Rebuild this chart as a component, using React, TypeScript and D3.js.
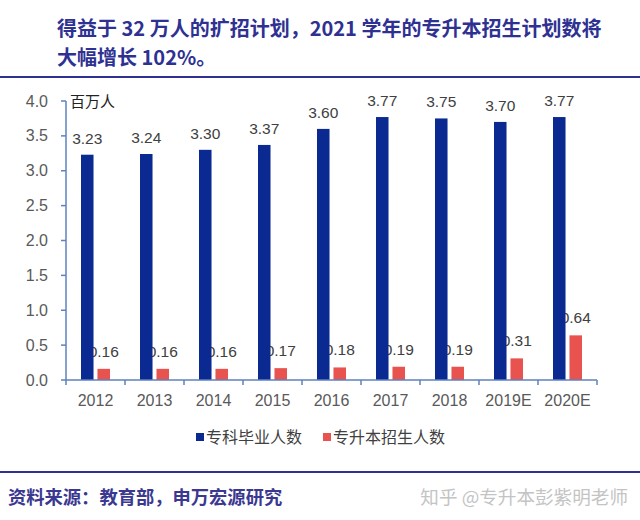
import React from "react";
import * as d3 from "d3";

const years = ["2012", "2013", "2014", "2015", "2016", "2017", "2018", "2019E", "2020E"];
const graduates = [3.23, 3.24, 3.3, 3.37, 3.6, 3.77, 3.75, 3.7, 3.77];
const enrolled = [0.16, 0.16, 0.16, 0.17, 0.18, 0.19, 0.19, 0.31, 0.64];
const yTicks = [0, 0.5, 1, 1.5, 2, 2.5, 3, 3.5, 4];
const seriesNames = ["专科毕业人数", "专升本招生人数"];

const BLUE = "#0A2A92";
const RED = "#E8534F";
const AXIS = "#5F82BE";
const LABEL = "#404040";
const TITLE = "#2E3192";
const NUM_FONT = "'Liberation Sans', Arial, sans-serif";
const CJK_FONT = "'Noto Sans CJK SC', 'Noto Sans', sans-serif";

export default function App() {
  const width = 640;
  const height = 520;

  const x = d3.scaleBand<string>().domain(years).range([66, 597]).paddingInner(0).paddingOuter(0);
  const sub = d3
    .scaleBand<string>()
    .domain(["g", "e"])
    .range([0, x.bandwidth()])
    .paddingInner(0.24)
    .paddingOuter(0.91);
  const y = d3.scaleLinear().domain([0, 4]).range([380, 101]);
  const y0 = y(0);

  return (
    <svg
      width={width}
      height={height}
      style={{ position: "absolute", left: 0, top: 0, background: "#fff" }}
    >
      {/* title */}
      <g fontFamily={CJK_FONT} fontWeight="bold" fontSize={20} fill={TITLE}>
        <text x={57} y={36}>得益于 32 万人的扩招计划，2021 学年的专升本招生计划数将</text>
        <text x={57} y={65}>大幅增长 102%。</text>
      </g>
      <line x1={0} x2={width} y1={77} y2={77} stroke={TITLE} strokeWidth={2} />

      {/* y axis */}
      <line x1={66} x2={66} y1={y(4)} y2={y0} stroke={AXIS} strokeWidth={1.5} />
      {yTicks.map((t) => (
        <g key={t}>
          <line x1={61} x2={66} y1={y(t)} y2={y(t)} stroke={AXIS} strokeWidth={1.5} />
          <text
            x={48}
            y={y(t)}
            dy="0.35em"
            textAnchor="end"
            fontFamily={NUM_FONT}
            fontSize={16}
            fill="#595959"
          >
            {t.toFixed(1)}
          </text>
        </g>
      ))}
      <text x={70} y={107} fontFamily={CJK_FONT} fontSize={15} fill="#222">
        百万人
      </text>

      {/* red labels first, so the blue bars overlap them like in the source */}
      {years.map((yr, i) => (
        <text
          key={"el" + yr}
          x={(x(yr) ?? 0) + (sub("e") ?? 0) + sub.bandwidth() / 2}
          y={y(enrolled[i]) - 12}
          textAnchor="middle"
          fontFamily={NUM_FONT}
          fontSize={15.5}
          fill={LABEL}
        >
          {enrolled[i].toFixed(2)}
        </text>
      ))}

      {/* bars */}
      {years.map((yr, i) => (
        <g key={"b" + yr}>
          <rect
            x={(x(yr) ?? 0) + (sub("g") ?? 0)}
            y={y(graduates[i])}
            width={sub.bandwidth()}
            height={y0 - y(graduates[i])}
            fill={BLUE}
          />
          <rect
            x={(x(yr) ?? 0) + (sub("e") ?? 0)}
            y={y(enrolled[i])}
            width={sub.bandwidth()}
            height={y0 - y(enrolled[i])}
            fill={RED}
          />
        </g>
      ))}

      {/* blue labels */}
      {years.map((yr, i) => (
        <text
          key={"gl" + yr}
          x={(x(yr) ?? 0) + (sub("g") ?? 0) + sub.bandwidth() / 2}
          y={y(graduates[i]) - 11}
          textAnchor="middle"
          fontFamily={NUM_FONT}
          fontSize={15.5}
          fill={LABEL}
        >
          {graduates[i].toFixed(2)}
        </text>
      ))}

      {/* x axis */}
      <line x1={66} x2={597} y1={y0} y2={y0} stroke={AXIS} strokeWidth={1.5} />
      {[...years.map((yr) => x(yr) ?? 0), 597].map((px, i) => (
        <line key={"t" + i} x1={px} x2={px} y1={y0} y2={y0 + 5} stroke={AXIS} strokeWidth={1.5} />
      ))}
      {years.map((yr) => (
        <text
          key={"xl" + yr}
          x={(x(yr) ?? 0) + x.bandwidth() / 2}
          y={406}
          textAnchor="middle"
          fontFamily={NUM_FONT}
          fontSize={16}
          fill="#595959"
        >
          {yr}
        </text>
      ))}

      {/* legend */}
      <g fontFamily={CJK_FONT} fontSize={16} fill={LABEL}>
        <rect x={196} y={433} width={8} height={8} fill={BLUE} />
        <text x={206} y={443}>{seriesNames[0]}</text>
        <rect x={323} y={433} width={8} height={8} fill={RED} />
        <text x={333} y={443}>{seriesNames[1]}</text>
      </g>

      {/* footer */}
      <line x1={0} x2={width} y1={472} y2={472} stroke={TITLE} strokeWidth={2} />
      <text x={8} y={504} fontFamily={CJK_FONT} fontSize={18.3} fontWeight="bold" fill="#3A3890">
        资料来源：教育部，申万宏源研究
      </text>
      <text x={628} y={504} textAnchor="end" fontFamily={CJK_FONT} fontSize={18.6} fill="#C4C4C4">
        知乎 @专升本彭紫明老师
      </text>
    </svg>
  );
}
